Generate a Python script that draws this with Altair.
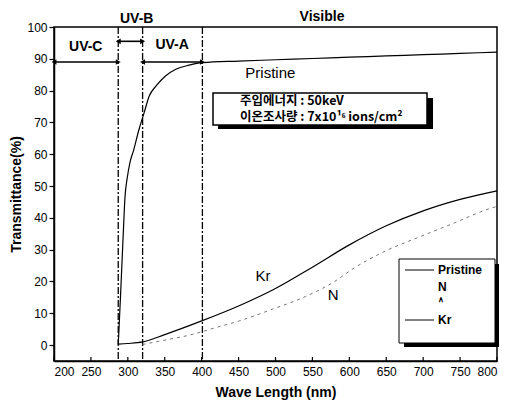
import altair as alt
import pandas as pd

# ---------------- data ----------------
pristine_wl = [287, 288, 290, 292, 294, 296, 299.5, 302.5, 308, 315, 322, 329, 338, 351, 365, 383, 401, 450, 500, 550, 600, 650, 700, 750, 800]
pristine_t = [0.2, 5, 15, 25.5, 36, 46, 53, 57, 61.4, 67.7, 73, 78.3, 81.4, 84.6, 86.7, 88, 88.8, 89.3, 89.7, 90.1, 90.5, 90.9, 91.3, 91.7, 92.1]

kr_wl = [287, 300, 320, 350, 400, 450, 500, 550, 600, 650, 700, 750, 800]
kr_t = [0.3, 0.5, 1.0, 3.3, 7.6, 12.3, 17.8, 24.5, 31.5, 37.5, 42.2, 45.8, 48.5]

n_wl = [320, 342, 388, 419, 451, 496, 541, 580, 605, 650, 695, 740, 790, 800]
n_t = [0.2, 1.2, 3.4, 5.5, 7.6, 11.3, 15.3, 20.0, 24.0, 29.7, 34.0, 38.2, 42.9, 43.6]

band_edges = [287, 320, 401]
x_ticks = [200, 250, 300, 350, 400, 450, 500, 550, 600, 650, 700, 750, 800]
y_ticks = [0, 10, 20, 30, 40, 50, 60, 70, 80, 90, 100]

arrow_x1 = [200, 287, 320]
arrow_x2 = [287, 320, 401]
arrow_y = [89, 95.5, 89]

band_labels = ["UV-C", "UV-A", "UV-B", "Visible"]
band_label_x = [243, 360, 312, 563]
band_label_y = [93.7, 94.3, 102.6, 103.0]

curve_labels = ["Pristine", "Kr", "N"]
curve_label_x = [493, 483, 578]
curve_label_y = [85.5, 21.7, 15.7]

info_lines = ["주입에너지 : 50keV", "이온조사량 : 7x10¹⁶ ions/cm²"]
legend_entries = ["Pristine", "N", "∧", "Kr"]
legend_has_line = [True, False, False, True]

W, H = 443, 334
xs = alt.Scale(domain=[200, 800], nice=False, zero=False)
ys = alt.Scale(domain=[-5, 100], nice=False, zero=False)
FONT = "Liberation Sans"

AX_X = alt.Axis(values=x_ticks, title="Wave Length (nm)", ticks=False, labelOverlap=False,
                labelFontSize=12, labelFont=FONT, labelPadding=5,
                titleFont=FONT, titleFontSize=14, titleFontWeight="bold",
                titlePadding=8, domainWidth=1.5, domainColor="black",
                labelColor="black", titleColor="black", grid=False)
AX_Y = alt.Axis(values=y_ticks, title="Transmittance(%)", tickSize=5, labelOverlap=False,
                tickColor="black", tickWidth=1.2,
                labelFontSize=12, labelFont=FONT, labelPadding=2,
                titleFont=FONT, titleFontSize=14, titleFontWeight="bold",
                titlePadding=3, domainWidth=1.5, domainColor="black",
                labelColor="black", titleColor="black", grid=False)


def qx(field):
    return alt.X(field, scale=xs, axis=AX_X)


def qy(field):
    return alt.Y(field, scale=ys, axis=AX_Y)


# ---------------- layers ----------------
pdf = pd.DataFrame({"wl": pristine_wl, "t": pristine_t})
kdf = pd.DataFrame({"wl": kr_wl, "t": kr_t})
ndf = pd.DataFrame({"wl": n_wl, "t": n_t})

pristine = alt.Chart(pdf).mark_line(color="black", strokeWidth=1.2, interpolate="monotone").encode(
    x=qx("wl:Q"), y=qy("t:Q"))
kr = alt.Chart(kdf).mark_line(color="black", strokeWidth=1.2, interpolate="monotone").encode(
    x=qx("wl:Q"), y=qy("t:Q"))
nline = alt.Chart(ndf).mark_line(color="#777777", strokeWidth=1, strokeDash=[3, 4], interpolate="monotone").encode(
    x=qx("wl:Q"), y=qy("t:Q"))

vdf = pd.DataFrame({"wl": band_edges})
vlines = alt.Chart(vdf).mark_rule(color="black", strokeWidth=1.3, strokeDash=[7, 2, 2, 2]).encode(
    x=qx("wl:Q"), y=alt.value(0), y2=alt.value(H))

xtdf = pd.DataFrame({"wl": x_ticks})
xticks_in = alt.Chart(xtdf).mark_rule(color="black", strokeWidth=1.2).encode(
    x=qx("wl:Q"), y=alt.value(H), y2=alt.value(H - 4))

adf = pd.DataFrame({"x1": arrow_x1, "x2": arrow_x2, "y": arrow_y})
arrows = alt.Chart(adf).mark_rule(color="black", strokeWidth=1.6).encode(
    x=qx("x1:Q"), x2="x2:Q", y=qy("y:Q"))
head_l = alt.Chart(adf).mark_point(shape="triangle-left", filled=True, color="black", size=32, opacity=1).encode(
    x=qx("x1:Q"), y=qy("y:Q"))
head_r = alt.Chart(adf).mark_point(shape="triangle-right", filled=True, color="black", size=32, opacity=1).encode(
    x=qx("x2:Q"), y=qy("y:Q"))

bldf = pd.DataFrame({"txt": band_labels, "x": band_label_x, "y": band_label_y})
band_text = alt.Chart(bldf).mark_text(font=FONT, fontSize=14, fontWeight="bold", color="black").encode(
    x=qx("x:Q"), y=qy("y:Q"), text="txt:N")

cldf = pd.DataFrame({"txt": curve_labels, "x": curve_label_x, "y": curve_label_y})
curve_text = alt.Chart(cldf).mark_text(font=FONT, fontSize=15, color="black").encode(
    x=qx("x:Q"), y=qy("y:Q"), text="txt:N")

one = pd.DataFrame({"a": [0]})
# info box
info_shadow = alt.Chart(one).mark_rect(color="black").encode(
    x=alt.value(164), x2=alt.value(379), y=alt.value(71), y2=alt.value(102))
info_box = alt.Chart(one).mark_rect(fill="white", stroke="black", strokeWidth=1.5).encode(
    x=alt.value(159), x2=alt.value(373), y=alt.value(66), y2=alt.value(98))
info_rows_y = [74, 90]
info_layers = []
for txt, yy in zip(info_lines, info_rows_y):
    info_layers.append(
        alt.Chart(pd.DataFrame({"txt": [txt]})).mark_text(
            font="Noto Sans CJK KR", fontSize=12.5, fontWeight="bold", align="left",
            baseline="middle", color="black").encode(
            x=alt.value(186), y=alt.value(yy), text="txt:N"))

# legend
leg_shadow = alt.Chart(one).mark_rect(color="black").encode(
    x=alt.value(350), x2=alt.value(445), y=alt.value(237), y2=alt.value(320))
leg_box = alt.Chart(one).mark_rect(fill="white", stroke="black", strokeWidth=1).encode(
    x=alt.value(345), x2=alt.value(441), y=alt.value(232), y2=alt.value(316))
leg_rows_y = [243, 260, 273, 293]
leg_layers = []
for txt, has_line, yy in zip(legend_entries, legend_has_line, leg_rows_y):
    small = txt == "∧"
    leg_layers.append(
        alt.Chart(pd.DataFrame({"txt": [txt]})).mark_text(
            font=FONT, fontSize=8 if small else 12, fontWeight="bold", align="left",
            baseline="middle", color="black").encode(
            x=alt.value(384), y=alt.value(yy), text="txt:N"))
    if has_line:
        leg_layers.append(
            alt.Chart(pd.DataFrame({"txt": [txt]})).mark_rule(color="black", strokeWidth=1).encode(
                x=alt.value(351), x2=alt.value(380), y=alt.value(yy)))

chart = alt.layer(
    pristine, vlines, xticks_in, nline, kr, arrows, head_l, head_r, band_text, curve_text,
    info_shadow, info_box, *info_layers, leg_shadow, leg_box, *leg_layers
).properties(
    width=W, height=H,
    autosize=alt.AutoSizeParams(type="none"),
    padding={"left": 46, "top": 19, "right": 4, "bottom": 40},
    background="white",
).configure_view(stroke="black", strokeWidth=1.5).configure_axis(grid=False)

chart.save("out.html", embed_options={"renderer": "svg", "actions": False})
